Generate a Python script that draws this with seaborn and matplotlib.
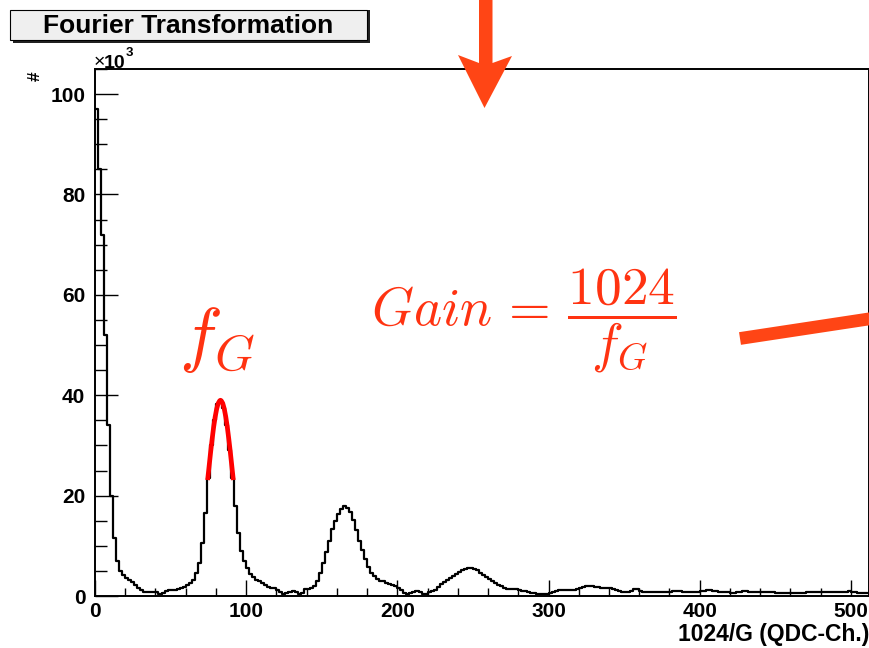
import numpy as np
import pandas as pd
import matplotlib
matplotlib.use("Agg")
import matplotlib.pyplot as plt
import seaborn as sns
from matplotlib.patches import Rectangle, Polygon
from matplotlib.lines import Line2D

# ---------------- data (counts in units of 10^3, bins of width 2) ----------------
bin_width = 2
x_min, x_max = 0, 512
counts_k = [
    97, 85, 72, 52, 34, 20, 11.5, 7, 5, 4.2, 3.6, 3.2, 2.8, 2.2, 1.6, 1.1,
    0.8, 0.7, 0.8, 0.8, 0.7, 0.4, 0.5, 0.9, 1.1, 1.1, 1.2, 1.3, 1.5, 1.8, 2.1, 2.5,
    3.2, 4.6, 6.5, 10.5, 16.5, 23.5, 30, 35, 38.3, 39, 37.5, 34, 29, 23.5, 18, 12.5,
    9, 7, 5.5, 4.4, 3.7, 3.2, 2.9, 2.5, 2.2, 1.7, 1.5, 1.5, 1.2, 0.7, 0.4, 0.6,
    0.8, 0.9, 0.7, 0.4, 0.5, 1.3, 1.4, 1.5, 2.0, 3.0, 4.5, 6.5, 8.8, 11, 13.3, 15,
    16.3, 17.3, 17.9, 17.6, 16.8, 15.2, 13.2, 11.0, 9.2, 7.4, 5.8, 4.6, 3.9, 3.3, 3.0, 2.9,
    2.6, 2.3, 2.1, 1.9, 1.6, 1.1, 0.6, 0.4, 0.5, 0.7, 0.9, 0.7, 0.4, 0.4, 0.7, 1.0,
    1.2, 1.7, 2.3, 2.8, 3.2, 3.6, 4.0, 4.4, 4.7, 5.1, 5.4, 5.5, 5.5, 5.4, 5.1, 4.6,
    4.2, 3.8, 3.3, 2.9, 2.6, 2.2, 1.9, 1.6, 1.3, 1.3, 1.4, 1.4, 1.2, 1.0, 0.9, 0.8,
    0.6, 0.5, 0.4, 0.3, 0.3, 0.4, 0.6, 0.8, 1.0, 1.1, 1.1, 1.2, 1.2, 1.2, 1.2, 1.3,
    1.5, 1.7, 1.9, 2.0, 1.9, 1.8, 1.7, 1.6, 1.6, 1.5, 1.5, 1.3, 1.1, 0.9, 0.7, 0.7,
    0.8, 1.0, 1.3, 1.3, 1.0, 0.8, 0.7, 0.7, 0.7, 0.7, 0.7, 0.7, 0.8, 0.8, 0.8, 0.9,
    0.9, 0.9, 0.8, 0.7, 0.7, 0.7, 0.7, 0.8, 0.9, 1.0, 1.1, 1.1, 1.0, 0.9, 0.8, 0.8,
    0.7, 0.7, 0.6, 0.6, 0.7, 0.8, 0.9, 0.9, 0.8, 0.8, 0.8, 0.8, 0.8, 0.8, 0.8, 0.8,
    0.7, 0.6, 0.5, 0.5, 0.5, 0.5, 0.5, 0.5, 0.5, 0.6, 0.6, 0.7, 0.7, 0.7, 0.7, 0.8,
    0.8, 0.8, 0.8, 0.7, 0.7, 0.7, 0.7, 0.8, 0.8, 0.9, 0.8, 0.7, 0.6, 0.5, 0.5, 0.5,
]
# Gaussian fit of the first peak
fit_x = [74.5, 75.5, 76.5, 77.5, 78.5, 79.5, 80.5, 81.5, 82.5, 83.0,
         83.5, 84.5, 85.5, 86.5, 87.5, 88.5, 89.5, 90.5, 91.5]
fit_y = [23.1, 25.9, 28.7, 31.3, 33.7, 35.7, 37.3, 38.4, 38.9, 39.0,
         38.9, 38.4, 37.3, 35.7, 33.7, 31.3, 28.7, 25.9, 23.1]

x_ticks = [0, 100, 200, 300, 400, 500]
y_ticks = [0, 20, 40, 60, 80, 100]
y_max = 105

title = "Fourier Transformation"
x_label = "1024/G (QDC-Ch.)"
y_label = "#"

# ---------------- style ----------------
sns.set_theme(style="white")
plt.rcParams["font.family"] = ["Liberation Sans", "DejaVu Sans"]
plt.rcParams["font.weight"] = "bold"
plt.rcParams["mathtext.fontset"] = "cm"

W, H = 870, 648
fig = plt.figure(figsize=(8.7, 6.48), dpi=100)
fig.patch.set_facecolor("white")
ax = fig.add_axes([95 / W, 52 / H, 774 / W, 527 / H])
ax.set_facecolor("white")

edges = np.arange(x_min, x_max + bin_width, bin_width)
centers = edges[:-1] + bin_width / 2
hist_df = pd.DataFrame({"x": centers, "w": counts_k})
sns.histplot(data=hist_df, x="x", weights="w", binwidth=bin_width,
             binrange=(x_min, x_max), element="step", fill=False,
             color="black", linewidth=1.6, ax=ax, zorder=3)
fit_df = pd.DataFrame({"x": fit_x, "y": fit_y})
sns.lineplot(data=fit_df, x="x", y="y", color="#ff0000", linewidth=3.4, ax=ax,
             zorder=10, solid_capstyle="butt")

ax.set_xlim(x_min, x_max)
ax.set_ylim(0, y_max)
ax.set_xticks(x_ticks)
ax.set_yticks(y_ticks)
ax.set_xticks(np.arange(0, x_max + 1, 20), minor=True)
ax.set_yticks(np.arange(0, y_max + 0.1, 5), minor=True)
ax.set_xlabel("")
ax.set_ylabel("")

for s in ax.spines.values():
    s.set_visible(True)
    s.set_color("black")
    s.set_linewidth(1.4)
    s.set_zorder(12)

ax.tick_params(axis="x", which="major", direction="in", length=11.5, width=1.0,
               labelsize=15, pad=4, colors="black", bottom=True, top=False)
ax.tick_params(axis="x", which="minor", direction="in", length=5.8, width=1.0,
               bottom=True, top=False, colors="black")
ax.tick_params(axis="y", which="major", direction="in", length=16.5, width=1.0,
               labelsize=15, pad=7, colors="black", left=True, right=False)
ax.tick_params(axis="y", which="minor", direction="in", length=8.3, width=1.0,
               left=True, right=False, colors="black")
for lab in ax.get_xticklabels() + ax.get_yticklabels():
    lab.set_fontweight("bold")

def fx(px):
    return px / W

def fy(py):
    return 1 - py / H

# axis labels
fig.text(fx(869), fy(641.5), x_label, ha="right", va="baseline", fontsize=16.5,
         fontweight="bold", color="black")
fig.text(fx(35), fy(76), y_label, ha="center", va="center", fontsize=12.5,
         fontweight="bold", rotation=90, color="black")
fig.text(fx(94), fy(67.5), "\u00d7", ha="left", va="baseline", fontsize=14,
         fontweight="normal", color="black")
fig.text(fx(104), fy(67.5), "10", ha="left", va="baseline", fontsize=14,
         fontweight="bold", color="black")
fig.text(fx(125.5), fy(56), "3", ha="left", va="baseline", fontsize=9.5,
         fontweight="bold", color="black")

# title box with shadow
fig.patches.append(Rectangle((fx(13), fy(43)), (367 - 10) / W, (43 - 10) / H,
                             transform=fig.transFigure, facecolor="#222222",
                             edgecolor="none", zorder=1))
fig.patches.append(Rectangle((fx(10), fy(40)), (367 - 10) / W, (40 - 10) / H,
                             transform=fig.transFigure, facecolor="#efefef",
                             edgecolor="black", linewidth=0.8, zorder=2))
fig.text(fx(188), fy(26), title, ha="center", va="center", fontsize=19,
         fontweight="bold", color="black", zorder=3)

# red annotations
txt_col = "#ff3311"
arr_col = "#ff4515"
fig.text(fx(179), fy(358), r"$f_G$", ha="left", va="baseline", fontsize=52,
         color=txt_col)
fig.text(fx(371), fy(321), r"$Gain\,=\,\dfrac{1024}{f_G}$", ha="left", va="center",
         fontsize=38.5, color=txt_col)

arrow = Polygon([(fx(479), fy(-5)), (fx(492.5), fy(-5)), (fx(492.5), fy(63)),
                 (fx(512), fy(56)), (fx(484.5), fy(108)), (fx(458), fy(55)),
                 (fx(479), fy(63))], closed=True, transform=fig.transFigure,
                facecolor=arr_col, edgecolor="none", zorder=10)
fig.patches.append(arrow)
fig.lines.append(Line2D([fx(740), fx(875)], [fy(338.5), fy(318)],
                        transform=fig.transFigure, color=arr_col, linewidth=9.2,
                        solid_capstyle="butt", zorder=10))

fig.savefig("out.png", dpi=100, facecolor="white")
